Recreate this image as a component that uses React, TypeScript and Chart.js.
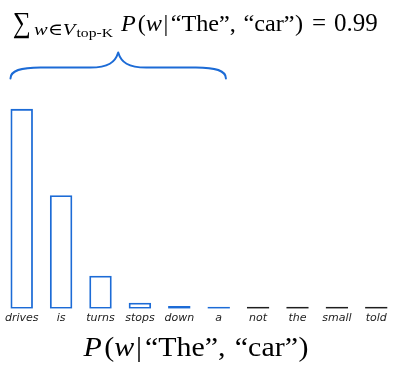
import React, { useEffect, useRef } from "react";
import { Chart, registerables } from "chart.js";

Chart.register(...registerables);

// ---- data ----
const words = ["drives", "is", "turns", "stops", "down", "a", "not", "the", "small", "told"];
const probs = [0.556, 0.316, 0.092, 0.017, 0.008, 0.001, 0.001, 0.001, 0.001, 0.001];
const inTopK = [true, true, true, true, true, true, false, false, false, false];
const topKSum = "0.99";

const BLUE = "#1c6bd6";
const DARK = "#1e1e1e";
const SERIF = '"Liberation Serif", "DejaVu Serif", serif';

type Run = { t: string; size: number; italic?: boolean; dy?: number; gap?: number };

function fontOf(r: Run) {
  return `${r.italic ? "italic " : ""}${r.size}px ${SERIF}`;
}

function runsWidth(ctx: CanvasRenderingContext2D, runs: Run[]) {
  let w = 0;
  for (const r of runs) {
    ctx.font = fontOf(r);
    w += (r.gap || 0) + ctx.measureText(r.t).width;
  }
  return w;
}

function drawRuns(ctx: CanvasRenderingContext2D, x: number, y: number, runs: Run[]) {
  let cx = x;
  for (const r of runs) {
    cx += r.gap || 0;
    ctx.font = fontOf(r);
    ctx.fillText(r.t, cx, y + (r.dy || 0));
    cx += ctx.measureText(r.t).width;
  }
  return cx;
}

// draw runs stretched horizontally to span a target width
function drawFit(ctx: CanvasRenderingContext2D, x: number, y: number, runs: Run[], targetW: number) {
  const w = runsWidth(ctx, runs);
  const s = targetW / w;
  ctx.save();
  ctx.translate(x, y);
  ctx.scale(s, 1);
  drawRuns(ctx, 0, 0, runs);
  ctx.restore();
  return x + targetW;
}

function condRuns(size: number): Run[] {
  return [
    { t: "P", size, italic: true },
    { t: "(", size, gap: size * 0.08 },
    { t: "w", size, italic: true },
    { t: "|", size, gap: size * 0.06 },
    { t: "\u201CThe\u201D,", size, gap: size * 0.1 },
    { t: " \u201Ccar\u201D", size, gap: size * 0.06 },
    { t: ")", size, gap: size * 0.02 },
  ];
}

const annotationPlugin = {
  id: "annot",
  afterDraw(chart: any) {
    const ctx: CanvasRenderingContext2D = chart.ctx;
    const meta = chart.getDatasetMeta(0);
    const lastTop = inTopK.lastIndexOf(true);
    const b0 = meta.data[0];
    const b1 = meta.data[lastTop];
    const L = b0.x - b0.width / 2;
    const R = b1.x + b1.width / 2 - 4;
    const mid = (L + R) / 2;
    const yb = 78.5;
    const ym = 67.5;
    const yt = 52.5;

    ctx.save();
    // brace
    ctx.strokeStyle = BLUE;
    ctx.lineWidth = 2;
    ctx.lineCap = "round";
    ctx.lineJoin = "round";
    ctx.beginPath();
    ctx.moveTo(L, yb);
    ctx.bezierCurveTo(L, ym + 3, L + 10, ym, L + 30, ym);
    ctx.lineTo(mid - 28, ym);
    ctx.bezierCurveTo(mid - 10, ym, mid - 3, ym - 5, mid, yt);
    ctx.bezierCurveTo(mid + 3, ym - 5, mid + 10, ym, mid + 28, ym);
    ctx.lineTo(R - 30, ym);
    ctx.bezierCurveTo(R - 10, ym, R, ym + 3, R, yb);
    ctx.stroke();

    // top formula
    ctx.fillStyle = "#000";
    ctx.textBaseline = "alphabetic";
    ctx.textAlign = "left";
    const base = 31;
    drawFit(ctx, 13, base + 1, [{ t: "\u2211", size: 29 }], 18);
    drawFit(
      ctx,
      34,
      base,
      [
        { t: "w", size: 17, italic: true, dy: 4 },
        { t: "\u2208", size: 17, dy: 4 },
        { t: "V", size: 17, italic: true, dy: 4 },
        { t: "top-K", size: 13, dy: 6, gap: 1 },
      ],
      79
    );
    const endP = drawFit(ctx, 121, base, condRuns(24), 182);
    drawRuns(ctx, endP + 9, base, [
      { t: "=", size: 25 },
      { t: topKSum, size: 25, gap: 8 },
    ]);

    // bottom formula (x-axis title)
    const bRuns = condRuns(28);
    const targetW = 225;
    const cx = (chart.chartArea.left + chart.chartArea.right) / 2;
    drawFit(ctx, cx - targetW / 2 - 3, 356, bRuns, targetW);
    ctx.restore();
  },
};

export default function App() {
  const ref = useRef<HTMLCanvasElement | null>(null);

  useEffect(() => {
    if (!ref.current) return;
    const chart = new Chart(ref.current, {
      type: "bar",
      data: {
        labels: words,
        datasets: [
          {
            data: probs,
            backgroundColor: "rgba(255,255,255,0)",
            borderColor: inTopK.map((t) => (t ? BLUE : DARK)),
            borderWidth: 1.8,
            borderSkipped: false,
            minBarLength: 2,
            categoryPercentage: 1,
            barPercentage: 0.57,
          },
        ],
      },
      options: {
        animation: false,
        responsive: true,
        maintainAspectRatio: false,
        layout: { padding: { top: 93, left: 2, right: 0, bottom: 38 } },
        plugins: { legend: { display: false }, tooltip: { enabled: false } },
        scales: {
          x: {
            grid: { display: false, drawTicks: false },
            border: { display: false },
            ticks: {
              padding: 3,
              color: "#222",
              maxRotation: 0,
              minRotation: 0,
              autoSkip: false,
              font: { family: '"DejaVu Sans", sans-serif', size: 11, style: "italic" },
            },
          },
          y: {
            display: false,
            min: 0,
            max: 0.6,
          },
        },
      },
      plugins: [annotationPlugin],
    });
    return () => chart.destroy();
  }, []);

  return (
    <div style={{ position: "fixed", left: 0, top: 0, width: 396, height: 366, background: "#fff" }}>
      <canvas ref={ref} />
    </div>
  );
}
